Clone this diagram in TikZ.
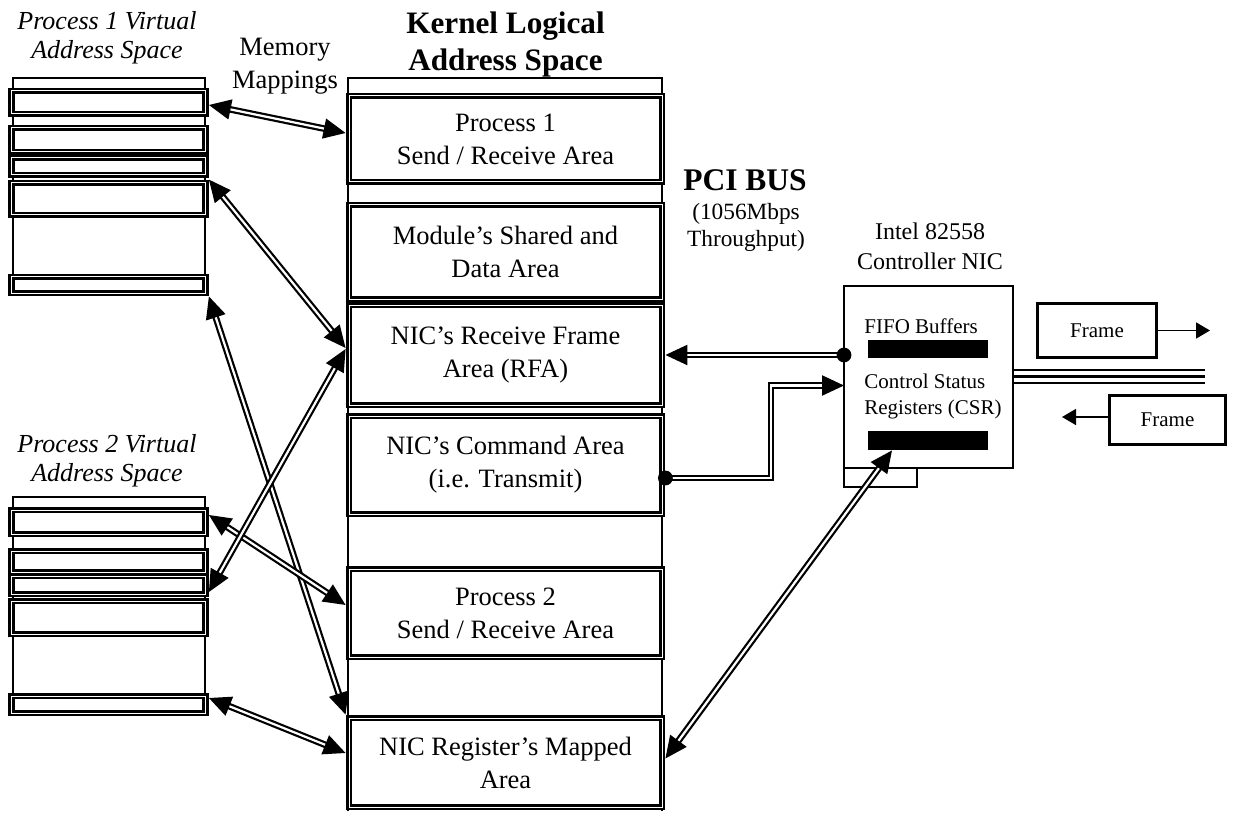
\documentclass[tikz,border=0pt]{standalone}
\usepackage{fontspec}
\setmainfont{Liberation Serif}
\usetikzlibrary{arrows.meta,calc}

\begin{document}
\begin{tikzpicture}[x=0.5pt,y=-0.5pt,
    thinbox/.style={draw, line width=0.7pt, inner sep=0pt, outer sep=0pt},
    band/.style={rectangle, draw, double, line width=1.45pt, double distance=0.5pt,
                 inner sep=0pt, outer sep=1.7pt},
    vaband/.style={band, minimum width=97pt},
    kband/.style={band, minimum width=156.5pt, align=center,
                  font=\fontsize{13.25}{16.5}\selectfont},
    link/.style={double, line width=1.1pt, double distance=1.1pt,
                 {Triangle[length=11pt,width=10pt]}-{Triangle[length=11pt,width=10pt]}},
    onearrow/.style={double, line width=1.1pt, double distance=1.1pt,
                 -{Triangle[length=11pt,width=10pt]}},
    thinarrow/.style={line width=0.8pt, -{Triangle[length=7pt,width=8pt]}},
    frame/.style={rectangle, draw, line width=1.5pt, inner sep=0pt,
                  font=\fontsize{10.5}{13}\selectfont},
    bar/.style={rectangle, fill=black, inner sep=0pt, minimum width=60pt},
    lbl/.style={inner sep=0pt, anchor=base, align=center,
                font=\fontsize{13.25}{16.5}\selectfont},
    small/.style={inner sep=0pt, font=\fontsize{10.5}{13}\selectfont},
    dot/.style={fill=black}
  ]
  \useasboundingbox (0,0) rectangle (1234,812);

  % multi-line labels are placed by the baseline of their last line

  % ---- process 1 virtual address space ----
  \node[lbl, font=\fontsize{13}{14.5}\selectfont\itshape] (va1) at (107,59)
       {Process 1 Virtual\\Address Space};
  \draw[line width=0.7pt] (13,290) -- (13,78) -- (205,78) -- (205,290);
  \node[vaband, minimum height=11.5pt] (a1) at (108.5,102.5) {};
  \node[vaband, minimum height=12pt]   (a2) at (108.5,140) {};
  \node[vaband, minimum height=8.5pt]  (a3) at (108.5,166.5) {};
  \node[vaband, minimum height=16pt]   (a4) at (108.5,199) {};
  \node[vaband, minimum height=8pt]    (a5) at (108.5,285) {};

  % ---- process 2 virtual address space ----
  \node[lbl, font=\fontsize{13}{14.5}\selectfont\itshape] (va2) at (107,481)
       {Process 2 Virtual\\Address Space};
  \draw[line width=0.7pt] (13,710) -- (13,497) -- (205,497) -- (205,710);
  \node[vaband, minimum height=12pt]   (b1) at (108.5,522) {};
  \node[vaband, minimum height=10.5pt] (b2) at (108.5,561.5) {};
  \node[vaband, minimum height=9pt]    (b3) at (108.5,585) {};
  \node[vaband, minimum height=16.5pt] (b4) at (108.5,617.5) {};
  \node[vaband, minimum height=8.5pt]  (b5) at (108.5,704.5) {};

  \node[lbl] (mm) at (285,89) {Memory\\Mappings};

  % ---- kernel logical address space ----
  \node[lbl, font=\fontsize{15.6}{18.5}\selectfont\bfseries] (ktitle) at (505.5,71)
       {Kernel Logical\\Address Space};
  \draw[line width=0.7pt] (348,811) -- (348,78) -- (662,78) -- (662,811);
  \node[kband, minimum height=43pt]   (K1) at (505.5,139) {Process 1\\Send / Receive Area};
  \node[kband, minimum height=47pt]   (K2) at (505.5,252) {Module’s Shared and\\Data Area};
  \node[kband, minimum height=50pt]   (K3) at (505.5,355) {NIC’s Receive Frame\\Area (RFA)};
  \node[kband, minimum height=49pt]   (K4) at (505.5,465) {NIC’s Command Area\\(i.e. Transmit)};
  \node[kband, minimum height=44pt]   (K5) at (505.5,613) {Process 2\\Send / Receive Area};
  \node[kband, minimum height=44.5pt] (K6) at (505.5,762.5) {NIC Register’s Mapped\\Area};

  % ---- PCI bus ----
  \node[lbl, font=\fontsize{15.75}{18}\selectfont\bfseries] (pci) at (745,191) {PCI BUS};
  \node[lbl, font=\fontsize{11.65}{13.5}\selectfont] (pcirate) at (746,247)
       {(1056Mbps\\Throughput)};

  % ---- network controller ----
  \node[lbl, font=\fontsize{12}{15}\selectfont] (nicname) at (930,270)
       {Intel 82558\\Controller NIC};
  \node[thinbox, minimum width=84.5pt, minimum height=91pt] (nic) at (928.5,377) {};
  \node[thinbox, minimum width=36.5pt, minimum height=9.5pt] (tab) at (880.5,477.5) {};
  \node[small, anchor=base west] (fifolbl) at (864,333) {FIFO Buffers};
  \node[bar, minimum height=9pt] (fifo) at (928,349) {};
  \node[small, anchor=base west, align=left] (csrlbl) at (864,414)
       {Control Status\\Registers (CSR)};
  \node[bar, minimum height=9.5pt] (csr) at (928,440.5) {};

  % ---- network wire and frames ----
  \coordinate (wireend) at (1205,376.5);
  \foreach \d in {-6.5,0,6.5}
    \draw[line width=1.2pt] ($(nic.east |- wireend)+(0,\d)$) -- ($(wireend)+(0,\d)$);
  \node[frame, minimum width=59.5pt, minimum height=27pt] (fr1) at (1097,330.5) {Frame};
  \node[frame, minimum width=58pt, minimum height=24.5pt] (fr2) at (1167.5,420) {Frame};
  \coordinate (out1) at (1210,330);
  \coordinate (in2) at (1062,417);
  \draw[thinarrow] (fr1.east) -- (fr1.east -| out1);
  \draw[thinarrow] ([yshift=1.5pt]fr2.west) -- ([yshift=1.5pt]fr2.west -| in2);

  % ---- memory mappings ----
  \draw[link] ([yshift=-1.25pt]a1.east) -- ([yshift=3pt]K1.west);
  \draw[link] (a4.north east) -- ([yshift=3.5pt]K3.west);
  \draw[link] (a5.south east) -- (K6.north west);
  \draw[link] ([yshift=3.5pt]b1.east) -- ([yshift=4pt]K5.west);
  \draw[link] ([yshift=-3.5pt]b3.east) -- ([yshift=3pt]K3.west);
  \draw[link] ([yshift=3.25pt]b5.east) -- ([yshift=4.75pt]K6.west);
  \draw[link] ([xshift=-18pt]csr.south) -- ([yshift=2pt]K6.east);

  % ---- bus transfers ----
  \coordinate (rxsrc) at (K3.east -| nic.west);
  \draw[onearrow] (rxsrc) -- (K3.east);
  \fill[dot] (rxsrc) circle (3.7pt);
  \coordinate (cmdout) at ([yshift=-6.5pt]K4.east);
  \coordinate (jog) at (771,385.5);
  \draw[onearrow] (cmdout) -| (jog) -- (jog -| nic.west);
  \fill[dot] (cmdout) circle (3.7pt);
\end{tikzpicture}
\end{document}
